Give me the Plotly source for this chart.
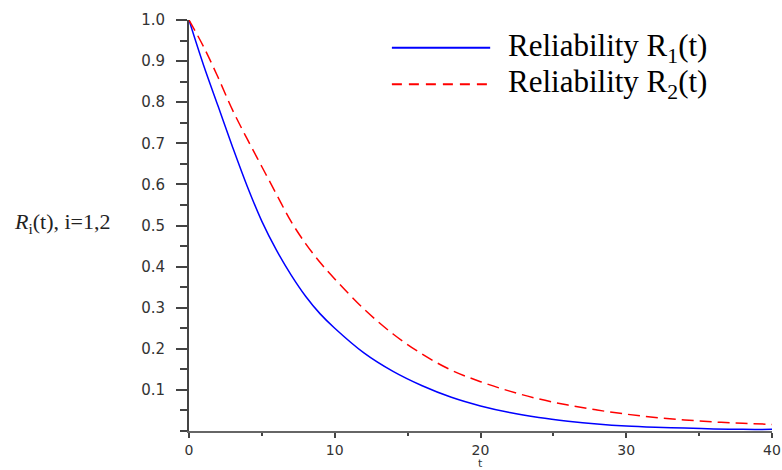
import plotly.graph_objects as go

t_vals = [0, 1, 2, 3, 4, 5, 6, 7, 8, 9, 10, 12, 14, 16, 18, 20, 22, 24, 26, 28, 30, 32, 34, 36, 38, 40]
r1_vals = [1.0, 0.89, 0.79, 0.69, 0.595, 0.51, 0.44, 0.38, 0.328, 0.285, 0.25, 0.19, 0.145, 0.11,
           0.082, 0.061, 0.045, 0.033, 0.024, 0.017, 0.012, 0.009, 0.007, 0.005, 0.004, 0.004]
r2_vals = [1.0, 0.935, 0.86, 0.78, 0.71, 0.643, 0.576, 0.51, 0.456, 0.41, 0.37, 0.297, 0.236, 0.187,
           0.148, 0.12, 0.097, 0.078, 0.063, 0.051, 0.041, 0.033, 0.027, 0.022, 0.019, 0.016]

x_ticks = [0, 10, 20, 30, 40]
y_ticks = [0.1, 0.2, 0.3, 0.4, 0.5, 0.6, 0.7, 0.8, 0.9, 1.0]
y_tick_text = ["0.1", "0.2", "0.3", "0.4", "0.5", "0.6", "0.7", "0.8", "0.9", "1.0"]

fig = go.Figure()
fig.add_trace(go.Scatter(x=t_vals, y=r1_vals, mode="lines", line=dict(color="#0000ff", width=1.5, shape="spline"),
                         name="Reliability R1(t)", showlegend=False))
fig.add_trace(go.Scatter(x=t_vals, y=r2_vals, mode="lines", line=dict(color="#ff0000", width=1.5, dash="12px,6px", shape="spline"),
                         name="Reliability R2(t)", showlegend=False))

tick_font = dict(family="DejaVu Sans", size=15, color="#333333")
fig.update_layout(
    width=782, height=470,
    margin=dict(l=189, r=10, t=20, b=39),
    paper_bgcolor="white", plot_bgcolor="white",
    xaxis=dict(range=[0, 40], tickvals=x_ticks, ticks="outside", ticklen=5, tickwidth=1.5, tickcolor="#444",
               showline=True, linecolor="#666", linewidth=2, showgrid=False, zeroline=False,
               tickfont=dict(family="DejaVu Sans", size=14, color="#333333"), automargin=False,
               minor=dict(dtick=5, ticks="outside", ticklen=3, tickcolor="#444", tickwidth=1.5, showgrid=False)),
    yaxis=dict(range=[0, 1.0], tickvals=y_ticks, ticktext=y_tick_text, ticks="outside", ticklen=11, tickwidth=1.5,
               tickcolor="#444", showline=True, linecolor="#444", linewidth=2, showgrid=False, zeroline=False,
               tickfont=tick_font, ticklabelstandoff=8, automargin=False,
               minor=dict(dtick=0.05, ticks="outside", ticklen=7, tickcolor="#444", tickwidth=1.5, showgrid=False)),
)

# x-axis title
fig.add_annotation(text="t", xref="paper", yref="paper", x=0.5, y=-0.062, xanchor="center", yanchor="top",
                   showarrow=False, borderpad=0, font=dict(family="DejaVu Sans", size=11, color="#333"))

# y-axis label (horizontal, left)
fig.add_annotation(text="<i>R</i><sub>i</sub>(t), i=1,2", xref="paper", yref="paper", x=-0.304, y=0.505,
                   xanchor="left", yanchor="middle", showarrow=False,
                   font=dict(family="Liberation Serif", size=22, color="#222"))

# legend drawn manually
legend_items = [("Reliability R<sub>1</sub>(t)", "#0000ff", "solid", 0.9326),
                ("Reliability R<sub>2</sub>(t)", "#ff0000", "10px,7px", 0.8436)]
for label, col, dash, yy in legend_items:
    fig.add_shape(type="line", xref="paper", yref="paper", x0=0.348, x1=0.5166, y0=yy, y1=yy,
                  line=dict(color=col, width=2, dash=dash))
    fig.add_annotation(text=label, xref="paper", yref="paper", x=0.543, y=yy, xanchor="left", yanchor="middle",
                       showarrow=False, font=dict(family="Liberation Serif", size=31, color="black"))

fig.write_html("out.html", config={"displayModeBar": False},
               post_script="document.body.style.margin='0px';document.body.style.overflow='hidden';")
